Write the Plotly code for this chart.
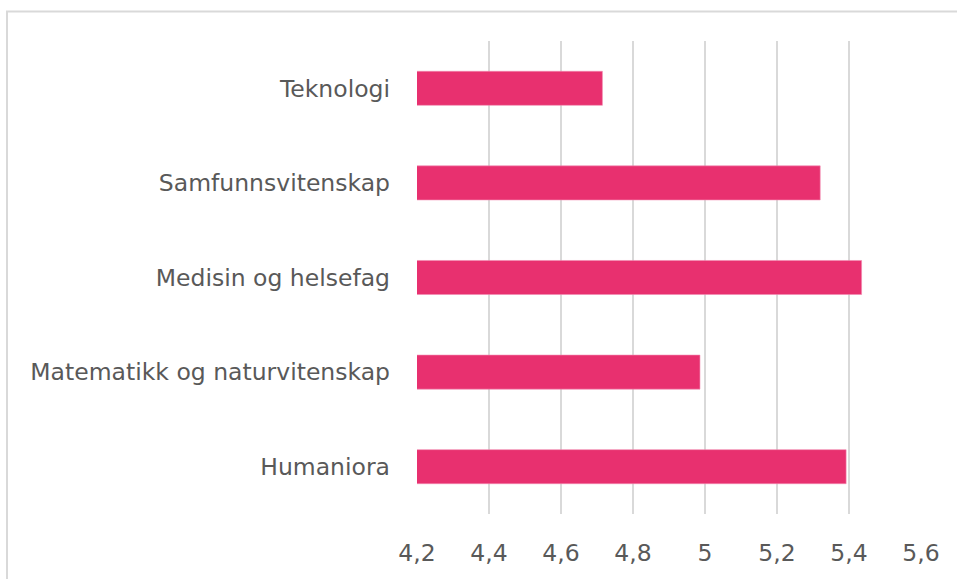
import plotly.graph_objects as go

categories = ["Teknologi", "Samfunnsvitenskap", "Medisin og helsefag",
              "Matematikk og naturvitenskap", "Humaniora"]
values = [4.715, 5.32, 5.435, 4.986, 5.392]
tick_vals = [4.2, 4.4, 4.6, 4.8, 5.0, 5.2, 5.4, 5.6]
tick_text = ["4,2", "4,4", "4,6", "4,8", "5", "5,2", "5,4", "5,6"]

W, H = 957, 579
L, R, T, B = 417, 36, 41, 63
FONT = "DejaVu Sans, sans-serif"
FS = 23.5

fig = go.Figure(go.Bar(
    x=values, y=categories, orientation="h",
    marker=dict(color="#E8306F", line=dict(color="#F28AB0", width=0.6)),
))

fig.update_layout(
    width=W, height=H,
    margin=dict(l=L, r=R, t=T, b=B, pad=0),
    paper_bgcolor="white", plot_bgcolor="white",
    bargap=0.64,
    showlegend=False,
    font=dict(family=FONT, color="#595959", size=FS),
    xaxis=dict(range=[4.2, 5.6], tickvals=tick_vals, ticktext=tick_text,
               showgrid=True, gridcolor="#d9d9d9", gridwidth=1.5,
               zeroline=False, showline=False, ticks="",
               tickfont=dict(family=FONT, size=FS, color="#595959"),
               ticklabelstandoff=22),
    yaxis=dict(autorange="reversed", showgrid=False, zeroline=False,
               showline=False, ticks="",
               tickfont=dict(family=FONT, size=FS, color="#595959"),
               ticklabelstandoff=26),
)

pw = W - L - R
ph = H - T - B
# outer chart border (light gray), extending beyond the page on right/bottom
fig.add_shape(type="rect", xref="paper", yref="paper",
              x0=(7 - L) / pw, x1=(W + 10 - L) / pw,
              y0=-(H + 10 - (H - B)) / ph, y1=1 + (T - 11.5) / ph,
              line=dict(color="#d9d9d9", width=2), layer="below")

fig.write_html("out.html", config={"displayModeBar": False},
               post_script="document.body.style.margin='0';document.body.style.overflow='hidden';")
